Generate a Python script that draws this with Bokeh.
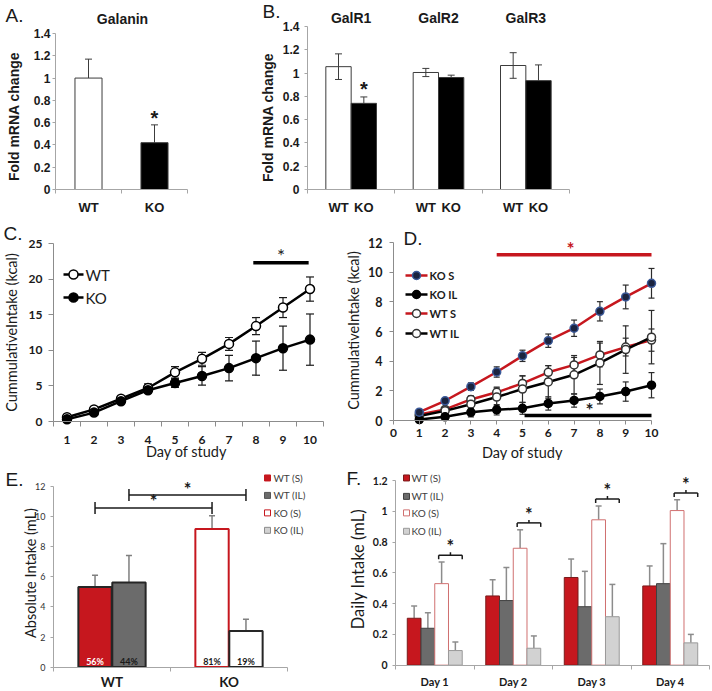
import math
from bokeh.plotting import figure
from bokeh.layouts import column, row
from bokeh.models import (Range1d, FixedTicker, NumeralTickFormatter, Label, Whisker,
                          TeeHead, ColumnDataSource)
from bokeh.core.properties import value
from bokeh.embed import file_html
from bokeh.resources import INLINE

# ---------------- data ----------------
A_groups = ["WT", "KO"]
A_mean = [1.00, 0.42]
A_err = [0.17, 0.16]
A_yticks = [0, 0.2, 0.4, 0.6, 0.8, 1.0, 1.2, 1.4]

B_genes = ["GalR1", "GalR2", "GalR3"]
B_wt = [1.055, 1.005, 1.065]
B_wt_err = [0.11, 0.035, 0.11]
B_ko = [0.74, 0.962, 0.935]
B_ko_err = [0.055, 0.02, 0.135]
B_sig = [True, False, False]

C_days = [1, 2, 3, 4, 5, 6, 7, 8, 9, 10]
C_wt = [0.6, 1.7, 3.2, 4.7, 6.9, 8.8, 10.9, 13.4, 16.0, 18.6]
C_wt_err = [0.3, 0.3, 0.3, 0.6, 0.8, 0.9, 0.9, 1.2, 1.4, 1.7]
C_ko = [0.3, 1.25, 2.85, 4.4, 5.4, 6.4, 7.5, 8.9, 10.3, 11.5]
C_ko_err = [0.2, 0.3, 0.3, 0.4, 0.6, 1.3, 1.8, 2.4, 3.1, 3.6]
C_yticks = [0, 5, 10, 15, 20, 25]
C_sig_span = [7.9, 9.95]
C_sig_y = 22.3

D_days = [1, 2, 3, 4, 5, 6, 7, 8, 9, 10]
D_ko_s = [0.56, 1.33, 2.28, 3.27, 4.36, 5.38, 6.22, 7.36, 8.33, 9.25]
D_ko_s_err = [0.1, 0.15, 0.25, 0.35, 0.38, 0.45, 0.55, 0.65, 0.8, 1.0]
D_ko_il = [0.06, 0.25, 0.55, 0.72, 0.82, 1.15, 1.35, 1.62, 1.95, 2.38]
D_ko_il_err = [0.1, 0.15, 0.3, 0.35, 0.4, 0.45, 0.45, 0.5, 0.65, 0.85]
D_wt_s = [0.4, 0.75, 1.42, 1.9, 2.5, 3.25, 3.75, 4.42, 4.95, 5.42]
D_wt_s_err = [0.1, 0.15, 0.25, 0.35, 0.5, 0.45, 0.5, 0.8, 0.6, 0.75]
D_wt_il = [0.3, 0.65, 1.1, 1.58, 2.12, 2.6, 3.08, 3.88, 4.78, 5.62]
D_wt_il_err = [0.1, 0.15, 0.3, 0.6, 0.9, 1.1, 1.3, 1.45, 1.6, 1.8]
D_xticks = [0, 1, 2, 3, 4, 5, 6, 7, 8, 9, 10]
D_yticks = [0, 2, 4, 6, 8, 10, 12]
D_sig_red_span = [4.0, 10.0]
D_sig_red_y = 11.17
D_sig_black_span = [5.08, 10.0]
D_sig_black_y = 0.34

E_groups = ["WT", "KO"]
E_s = [5.33, 9.18]
E_s_err = [0.78, 0.88]
E_il = [5.62, 2.40]
E_il_err = [1.80, 0.78]
E_s_pct = ["56%", "81%"]
E_il_pct = ["44%", "19%"]
E_yticks = [0, 2, 4, 6, 8, 10, 12]
E_sig_y = [10.58, 11.44]

F_days = ["Day 1", "Day 2", "Day 3", "Day 4"]
F_wt_s = [0.305, 0.45, 0.57, 0.515]
F_wt_s_err = [0.08, 0.105, 0.12, 0.13]
F_wt_il = [0.24, 0.42, 0.38, 0.53]
F_wt_il_err = [0.10, 0.215, 0.23, 0.26]
F_ko_s = [0.53, 0.76, 0.945, 1.005]
F_ko_s_err = [0.14, 0.12, 0.09, 0.07]
F_ko_il = [0.095, 0.11, 0.315, 0.145]
F_ko_il_err = [0.055, 0.08, 0.21, 0.055]
F_yticks = [0, 0.2, 0.4, 0.6, 0.8, 1.0, 1.2]

legend_labels = ["WT (S)", "WT (IL)", "KO (S)", "KO (IL)"]

RED = "#C6171E"
DGRAY = "#6B6B6B"
LGRAY = "#D2D2D2"
AX_GRAY = "#A6A6A6"
TXT = "#1a1a1a"


# ---------------- helpers ----------------
class Panel:
    """Figure whose frame fills the whole canvas; the data box (il..ir, it..ib in page px)
    maps to xd / yd and the axes are pinned to the data box with fixed_location."""

    def __init__(self, cx, cy, cw, ch, il, ir, it, ib, xd, yd):
        self.cx, self.cy = cx, cy
        self.sx = (xd[1] - xd[0]) / (ir - il)
        self.sy = (yd[1] - yd[0]) / (ib - it)
        self.x0 = xd[0] - (il - cx) * self.sx
        x1 = xd[1] + (cx + cw - ir) * self.sx
        y0 = yd[0] - (cy + ch - ib) * self.sy
        self.y1 = yd[1] + (it - cy) * self.sy
        self.p = figure(width=cw, height=ch, output_backend="svg", toolbar_location=None,
                        x_range=Range1d(self.x0, x1), y_range=Range1d(y0, self.y1),
                        min_border=0, min_border_left=0, min_border_right=0,
                        min_border_top=0, min_border_bottom=0)
        p = self.p
        p.xgrid.visible = False
        p.ygrid.visible = False
        p.outline_line_color = None
        p.background_fill_color = "white"
        p.border_fill_color = "white"
        p.xaxis.fixed_location = yd[0]
        p.yaxis.fixed_location = xd[0]
        p.xaxis.bounds = tuple(xd)
        p.yaxis.bounds = tuple(yd)

    def dx(self, px):
        return self.x0 + (px - self.cx) * self.sx

    def dy(self, py):
        return self.y1 - (py - self.cy) * self.sy

    def lab(self, px, py, text, size, font="Lato", style="normal", color=TXT,
            align="center", baseline="middle", angle=0.0):
        self.p.add_layout(Label(x=self.dx(px), y=self.dy(py), text=text, text_font=font,
                                text_font_size=f"{size}px", text_font_style=style,
                                text_color=color, text_align=align,
                                text_baseline=baseline, angle=angle))


def dlab(p, x, y, text, size, font="Lato", style="normal", color=TXT):
    p.add_layout(Label(x=x, y=y, text=text, text_font=font, text_font_size=f"{size}px",
                       text_font_style=style, text_color=color, text_align="center",
                       text_baseline="middle"))


def add_err(p, x, lo, hi, color, lw, size, both=False, level="underlay"):
    src = ColumnDataSource(dict(base=list(x), lower=list(lo), upper=list(hi)))
    w = Whisker(source=src, base="base", lower="lower", upper="upper", dimension="height",
                line_color=color, line_width=lw,
                upper_head=TeeHead(size=size, line_color=color, line_width=lw),
                lower_head=TeeHead(size=size, line_color=color, line_width=lw) if both else None,
                level=level)
    p.add_layout(w)


def style_y(p, ticks, font, size, style, standoff, tick_out, line_color, fmt=None, color=TXT):
    ax = p.yaxis[0]
    ax.ticker = FixedTicker(ticks=ticks)
    if fmt:
        ax.formatter = NumeralTickFormatter(format=fmt)
    ax.major_label_text_font = font
    ax.major_label_text_font_size = f"{size}px"
    ax.major_label_text_font_style = style
    ax.major_label_text_color = color
    ax.major_label_standoff = standoff
    ax.major_tick_out = tick_out
    ax.major_tick_in = 0
    ax.minor_tick_line_color = None
    ax.axis_line_color = line_color
    ax.major_tick_line_color = line_color


def style_x_cat(p, centers, labels, edges, font, size, style, standoff, tick_out, line_color,
                color=TXT):
    ax = p.xaxis[0]
    ax.ticker = FixedTicker(ticks=centers, minor_ticks=edges)
    if labels is not None:
        ax.major_label_overrides = {c: l for c, l in zip(centers, labels)}
    ax.major_label_text_font = font
    ax.major_label_text_font_size = f"{size}px"
    ax.major_label_text_font_style = style
    ax.major_label_text_color = color
    ax.major_label_standoff = standoff
    ax.major_tick_out = 0
    ax.major_tick_in = 0
    ax.major_tick_line_color = None
    ax.minor_tick_out = tick_out
    ax.minor_tick_in = 0
    ax.minor_tick_line_color = line_color
    ax.axis_line_color = line_color


def R3(y):
    # vertical placement of the bottom row (slightly compressed to fit the page)
    return 460 + (y - 460) * 0.97


VERT = math.pi / 2

# ---------------- Panel A ----------------
pa = Panel(0, 0, 200, 215, 55, 187, 33, 189, (0, 2), (0, 1.4))
p = pa.p
a_x = [0.5, 1.5]
p.vbar(x=a_x, top=A_mean, width=0.41, fill_color=["white", "black"], line_color="#3c3c3c",
       line_width=1)
add_err(p, a_x, A_mean, [m + e for m, e in zip(A_mean, A_err)], "#3c3c3c", 1, 7)
style_y(p, A_yticks, "Liberation Sans", 12, "bold", 2, 3, AX_GRAY, fmt="0.[0]")
style_x_cat(p, a_x, A_groups, [0, 1, 2], "Liberation Sans", 13, "bold", 6, 4, AX_GRAY)
pa.lab(13, 116, "Fold mRNA change", 14, "Liberation Sans", "bold", angle=VERT)
pa.lab(122, 18, "Galanin", 14, "Liberation Sans", "bold")
pa.lab(5, 15, "A.", 19, "Liberation Sans", align="left")
dlab(p, a_x[1], A_mean[1] + A_err[1] + 0.065, "*", 20, "Liberation Sans", "bold")

# ---------------- Panel B ----------------
pb = Panel(200, 0, 510, 215, 307, 569, 26, 189, (0, 3), (0, 1.4))
p = pb.p
b_c = [0.5, 1.5, 2.5]
b_wx = [c - 0.145 for c in b_c]
b_kx = [c + 0.145 for c in b_c]
p.vbar(x=b_wx, top=B_wt, width=0.29, fill_color="white", line_color="#3c3c3c", line_width=1)
p.vbar(x=b_kx, top=B_ko, width=0.29, fill_color="black", line_color="#3c3c3c", line_width=1)
add_err(p, b_wx, [m - e for m, e in zip(B_wt, B_wt_err)], [m + e for m, e in zip(B_wt, B_wt_err)],
        "#3c3c3c", 1, 7, both=True, level="overlay")
add_err(p, b_kx, B_ko, [m + e for m, e in zip(B_ko, B_ko_err)], "#3c3c3c", 1, 7)
b_ticks = []
b_labels = []
for w, k in zip(b_wx, b_kx):
    b_ticks += [w, k]
    b_labels += ["WT", "KO"]
style_y(p, A_yticks, "Liberation Sans", 12, "bold", 5, 3, AX_GRAY, fmt="0.[0]")
style_x_cat(p, b_ticks, b_labels, [0, 1, 2, 3], "Liberation Sans", 13, "bold", 6, 4, AX_GRAY)
for c, g in zip(b_c, B_genes):
    p.add_layout(Label(x=c, y=pb.dy(17), text=g, text_font="Liberation Sans",
                       text_font_size="14px", text_font_style="bold", text_color=TXT,
                       text_align="center", text_baseline="middle"))
for k, m, e, s in zip(b_kx, B_ko, B_ko_err, B_sig):
    if s:
        dlab(p, k, m + e + 0.065, "*", 20, "Liberation Sans", "bold")
pb.lab(267, 115, "Fold mRNA  change", 14, "Liberation Sans", "bold", angle=VERT)
pb.lab(262, 11, "B.", 19, "Liberation Sans", align="left")

# ---------------- Panel C ----------------
pc = Panel(0, 215, 343, 245, 53, 323, 243, 421, (0.5, 10.5), (0, 25))
p = pc.p
add_err(p, C_days, [m - e for m, e in zip(C_wt, C_wt_err)], [m + e for m, e in zip(C_wt, C_wt_err)],
        "#1a1a1a", 1.2, 8, both=True)
add_err(p, C_days, [m - e for m, e in zip(C_ko, C_ko_err)], [m + e for m, e in zip(C_ko, C_ko_err)],
        "#1a1a1a", 1.2, 8, both=True)
p.line(C_days, C_wt, line_color="black", line_width=2.5)
p.scatter(C_days, C_wt, size=9, fill_color="white", line_color="black", line_width=1.5)
p.line(C_days, C_ko, line_color="black", line_width=2.5)
p.scatter(C_days, C_ko, size=9, fill_color="black", line_color="black", line_width=1.5)
p.segment(x0=[C_sig_span[0]], y0=[C_sig_y], x1=[C_sig_span[1]], y1=[C_sig_y],
          line_color="black", line_width=3.5)
dlab(p, sum(C_sig_span) / 2, C_sig_y + 1.0, "*", 19, "Lato", "normal")
style_y(p, C_yticks, "Lato", 12, "bold", 6, 5, "#8C8C8C")
style_x_cat(p, C_days, None, [d - 0.5 for d in C_days] + [10.5], "Lato", 12, "bold", 9, 5,
            "#8C8C8C")
for (fc, name), py in zip([("white", "WT"), ("black", "KO")], [274, 297]):
    yd = pc.dy(py)
    p.segment(x0=[pc.dx(63)], y0=[yd], x1=[pc.dx(83)], y1=[yd], line_color="black", line_width=2.5)
    p.scatter([pc.dx(73)], [yd], size=9, fill_color=fc, line_color="black", line_width=1.5)
    pc.lab(85, py, name, 15, "Lato", align="left")
pc.lab(11, 332, "CummulativeIntake (kcal)", 14.5, "Lato", angle=VERT)
pc.lab(186, 451, "Day of study", 14.5, "Lato")
pc.lab(3, 233, "C.", 19, "Liberation Sans", align="left")

# ---------------- Panel D ----------------
pd = Panel(343, 215, 367, 245, 393, 651, 242, 420, (0, 10), (0, 12))
p = pd.p
series = [
    (D_wt_s, D_wt_s_err, RED, "white", "#333333"),
    (D_wt_il, D_wt_il_err, "black", "white", "#333333"),
    (D_ko_il, D_ko_il_err, "black", "black", "black"),
    (D_ko_s, D_ko_s_err, RED, "#1B2440", "#3B5998"),
]
for vals, errs, lc, fc, mlc in series:
    add_err(p, D_days, [m - e for m, e in zip(vals, errs)], [m + e for m, e in zip(vals, errs)],
            "#2b2b2b", 1.2, 6, both=True)
for vals, errs, lc, fc, mlc in series:
    p.line(D_days, vals, line_color=lc, line_width=2.5)
    p.scatter(D_days, vals, size=8, fill_color=fc, line_color=mlc, line_width=1.5)
p.segment(x0=[D_sig_red_span[0]], y0=[D_sig_red_y], x1=[D_sig_red_span[1]], y1=[D_sig_red_y],
          line_color=RED, line_width=3.5)
dlab(p, 6.86, D_sig_red_y + 0.45, "*", 19, "Lato", "bold", RED)
p.segment(x0=[D_sig_black_span[0]], y0=[D_sig_black_y], x1=[D_sig_black_span[1]],
          y1=[D_sig_black_y], line_color="black", line_width=3.5)
dlab(p, 7.6, D_sig_black_y + 0.38, "*", 19, "Lato", "bold", "#1a1a1a")
style_y(p, D_yticks, "Lato", 12.5, "bold", 7, 4, "#8C8C8C")
ax = p.xaxis[0]
ax.ticker = FixedTicker(ticks=D_xticks)
ax.major_label_text_font = "Lato"
ax.major_label_text_font_size = "12px"
ax.major_label_text_font_style = "bold"
ax.major_label_text_color = TXT
ax.major_label_standoff = 4
ax.major_tick_out = 4
ax.major_tick_in = 0
ax.major_tick_line_color = "#8C8C8C"
ax.minor_tick_line_color = None
ax.axis_line_color = "#8C8C8C"
leg = [("KO S", RED, "#1B2440", "#3B5998"), ("KO IL", "black", "black", "black"),
       ("WT S", RED, "white", "#333333"), ("WT IL", "black", "white", "#333333")]
for (name, lc, fc, mlc), py in zip(leg, [275, 294, 313, 333]):
    yd = pd.dy(py)
    p.segment(x0=[pd.dx(405)], y0=[yd], x1=[pd.dx(427)], y1=[yd], line_color=lc, line_width=2.5)
    p.scatter([pd.dx(416)], [yd], size=8, fill_color=fc, line_color=mlc, line_width=1.5)
    pd.lab(429, py, name, 11, "Lato", "bold", align="left")
pd.lab(353, 330, "CummulativeIntake (kcal)", 14.5, "Lato", angle=VERT)
pd.lab(522, 452, "Day of study", 14.5, "Lato")
pd.lab(403, 238, "D.", 19, "Liberation Sans", align="left")

# ---------------- Panel E ----------------
pe = Panel(0, 460, 343, 229, 53, 287, R3(487), R3(673), (0, 2), (0, 12))
p = pe.p
e_c = [0.5, 1.5]
e_sx = [c - 0.145 for c in e_c]
e_ix = [c + 0.145 for c in e_c]
add_err(p, e_sx, E_s, [m + e for m, e in zip(E_s, E_s_err)], "#7F7F7F", 1.5, 6)
add_err(p, e_ix, E_il, [m + e for m, e in zip(E_il, E_il_err)], "#7F7F7F", 1.5, 6)
p.vbar(x=e_sx, top=E_s, width=0.285, fill_color=[RED, "white"], line_color=["#262626", RED],
       line_width=2)
p.vbar(x=e_ix, top=E_il, width=0.285, fill_color=[DGRAY, "white"],
       line_color=["#262626", "#262626"], line_width=2)
p.text(x=e_sx + e_ix, y=[pe.dy(R3(667))] * 4, text=E_s_pct + E_il_pct,
       text_font=value("Lato"), text_font_size="9px", text_font_style="bold",
       text_color=["white", "#1a1a1a", "#1a1a1a", "#1a1a1a"], text_align="center",
       text_baseline="middle")
ppx = 6.0 * pe.sy  # 6 px in data units
for (x0, x1), y in zip([(e_sx[0], e_sx[1]), (e_ix[0], e_ix[1])], E_sig_y):
    p.segment(x0=[x0, x0, x1], y0=[y, y - ppx, y - ppx], x1=[x1, x0, x1], y1=[y, y + ppx, y + ppx],
              line_color="#1a1a1a", line_width=1.5)
    dlab(p, (x0 + x1) / 2, y + 1.1 * ppx, "*", 18, "Lato", "bold")
style_y(p, E_yticks, "Lato", 9, "normal", 5, 3, AX_GRAY, color="#333333")
style_x_cat(p, e_c, E_groups, [0, 1, 2], "Lato", 13.5, "bold", 3, 4, AX_GRAY)
e_leg = [(RED, RED), (DGRAY, "#555555"), ("white", RED), (LGRAY, "#8C8C8C")]
for (fc, lc), name, py in zip(e_leg, legend_labels, [478, 496, 514, 532]):
    p.scatter([pe.dx(267)], [pe.dy(R3(py))], marker="square", size=6, fill_color=fc,
              line_color=lc, line_width=1)
    pe.lab(273, R3(py), name, 10, "Lato", color="#404040", align="left")
pe.lab(30, R3(576), "Absolute Intake (mL)", 14.5, "Lato", angle=VERT)
pe.lab(5, R3(480), "E.", 19, "Liberation Sans", align="left")

# ---------------- Panel F ----------------
pf = Panel(343, 460, 367, 229, 395, 709, R3(480.7), R3(671), (0, 4), (0, 1.2))
p = pf.p
f_c = [0.5, 1.5, 2.5, 3.5]
offs = [-0.2625, -0.0875, 0.0875, 0.2625]
f_series = [
    (F_wt_s, F_wt_s_err, RED, "#7A1A1A"),
    (F_wt_il, F_wt_il_err, DGRAY, "#404040"),
    (F_ko_s, F_ko_s_err, "white", "#D07070"),
    (F_ko_il, F_ko_il_err, LGRAY, "#9A9A9A"),
]
for (vals, errs, fc, lc), o in zip(f_series, offs):
    xs = [c + o for c in f_c]
    add_err(p, xs, vals, [m + e for m, e in zip(vals, errs)], "#8C8C8C", 1.5, 6)
    p.vbar(x=xs, top=vals, width=0.175, fill_color=fc, line_color=lc, line_width=1)
ppf = pf.sy  # one pixel in data units
for c, m, e in zip(f_c, F_ko_s, F_ko_s_err):
    y = m + e + 0.045
    x0, x1, xm = c + 0.05, c + 0.35, c + 0.2
    p.segment(x0=[x0, x0, x1, xm], y0=[y, y, y, y], x1=[x1, x0, x1, xm],
              y1=[y, y - 4 * ppf, y - 4 * ppf, y + 3 * ppf], line_color="#1a1a1a", line_width=1.5)
    dlab(p, xm, y + 9 * ppf, "*", 18, "Lato", "bold")
style_y(p, F_yticks, "Lato", 10.5, "bold", 5, 3, AX_GRAY, fmt="0.[0]")
style_x_cat(p, f_c, F_days, [0, 1, 2, 3, 4], "Lato", 11, "bold", 6, 4, AX_GRAY)
f_leg = [(RED, "#7A1A1A"), (DGRAY, "#404040"), ("white", "#D07070"), (LGRAY, "#9A9A9A")]
for (fc, lc), name, py in zip(f_leg, legend_labels, [478, 497, 514, 533]):
    p.scatter([pf.dx(406)], [pf.dy(R3(py))], marker="square", size=6, fill_color=fc,
              line_color=lc, line_width=1)
    pf.lab(411, R3(py), name, 10, "Lato", color="#404040", align="left")
pf.lab(357, R3(572), "Daily Intake (mL)", 16.5, "Lato", angle=VERT)
pf.lab(346, R3(479), "F.", 19, "Liberation Sans", align="left")

layout = column(row(pa.p, pb.p), row(pc.p, pd.p), row(pe.p, pf.p))
open("out.html", "w").write(file_html(layout, INLINE))
